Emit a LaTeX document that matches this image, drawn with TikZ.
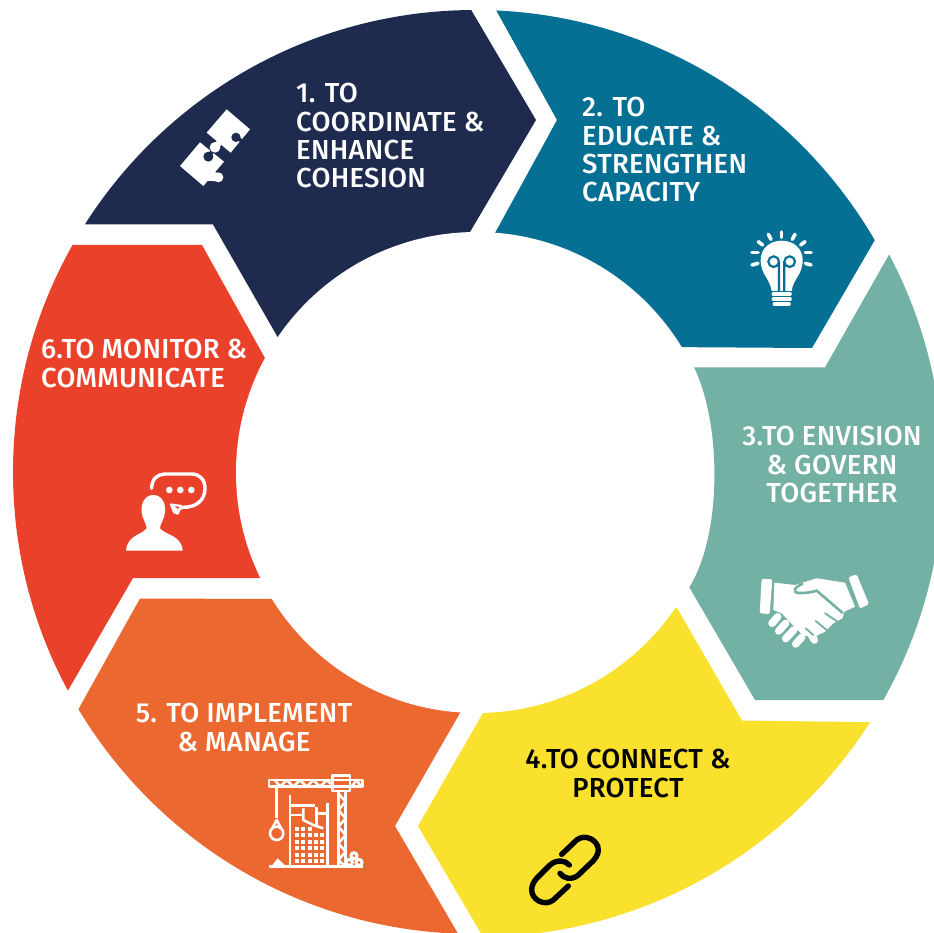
\documentclass[tikz,border=0pt]{standalone}
\usepackage{fontspec}
\newfontfamily\lblfont[LetterSpace=1]{Fira Sans Medium}
\tikzset{
  lbl/.style={font=\lblfont\fontsize{27.5}{28.4}\selectfont,text=white,inner sep=0pt},
  zoomed/.style={x=0.33333pt,y=-0.33333pt},
  ic/.style={draw=white,line cap=round,line join=round},
}
\definecolor{navy}{HTML}{1E2B4F}
\definecolor{petrol}{HTML}{056F94}
\definecolor{sage}{HTML}{73B1A4}
\definecolor{sun}{HTML}{F9E12E}
\definecolor{tangerine}{HTML}{EC6831}
\definecolor{vermil}{HTML}{EA412B}
\begin{document}
\begin{tikzpicture}[x=1pt,y=-1pt]
\useasboundingbox (0,0) rectangle (934,933);
\coordinate (c) at (475,472);
\coordinate (ci) at (476.5,472.5);
\coordinate (cr) at (478,472);
\begin{scope}
\clip (c) circle (462);
\fill[navy] (-50,224.5) -- (213,224.5) -- (300,376) -- (c) -- (450,266) -- (536,120) -- (450,-26) -- (-50,-50) -- cycle;
\fill[petrol] (476,-26) -- (557,120) -- (471.4,276) -- (c) -- (660,347) -- (812,348) -- (1000,25) -- (900,-50) -- cycle;
\fill[tangerine] (c) -- (490.5,660) -- (395,826) -- (497,1000) -- (-50,1000) -- (30,710) -- (78,710) -- (140,598.5) -- (272.3,599) -- cycle;
\fill[vermil] (c) -- (290,403) -- (202,245) -- (-50,245) -- (-50,900) -- (-30,860) -- (133,578) -- (300,578) -- cycle;
\end{scope}
\begin{scope}
\clip (cr) circle (465);
\fill[sun] (c) -- (677,608) -- (742,720.5) -- (1000,724) -- (1000,1000) -- (520,1000) -- (418,826) -- (513.5,660) -- cycle;
\end{scope}
\fill[white] (ci) circle (240.5);
\begin{scope}
\clip (cr) circle (465);
\fill[sage] (694,367.3) -- (825,367.3) -- (940,165) -- (1000,300) -- (1000,720) -- (936,700) -- (755,700) -- (689.3,587.3) .. controls (722,535) and (722,425) .. (694,367.3) -- cycle;
\end{scope}

\node[lbl,anchor=north west,align=left] (t1) at (296,83) {1. TO\\COORDINATE \&\\ENHANCE\\COHESION};
\node[lbl,anchor=north west,align=left] (t2) at (582,97) {2. TO\\EDUCATE \&\\STRENGTHEN\\CAPACITY};
\node[lbl,anchor=north,align=center] (t3) at (832,426) {3.TO ENVISION\\\& GOVERN\\TOGETHER};
\node[lbl,anchor=north,align=center,text=black] (t4) at (628,749) {4.TO CONNECT \&\\PROTECT};
\node[lbl,anchor=north,align=center] (t5) at (244,703) {5. TO IMPLEMENT\\\& MANAGE};
\node[lbl,anchor=north west,align=left] (t6) at (41,339) {6.TO MONITOR \&\\COMMUNICATE};

% puzzle
\begin{scope}[shift={(150,90)},zoomed]
\fill[white] (150,157) -- (222,215) -- (160,288) -- (90,228) -- cycle;
\fill[white] (205,262) circle (15);
\fill[white] (178,240) -- (205,250) -- (205,274) -- (170,272) -- cycle;
\fill[navy] (175,200) circle (15);
\draw[navy,line width=4pt] (175,200) -- (190,180);
\fill[white] (230,58) -- (300,118) -- (242,188) -- (170,128) -- cycle;
\draw[white,line width=6pt] (195,172) -- (208,158);
\fill[white] (195,172) circle (16);
\fill[navy] (258,142) circle (14);
\draw[navy,line width=3.5pt] (258,142) -- (278,155);
\end{scope}

% bulb
\begin{scope}[shift={(730,220)},zoomed]
\foreach \a/\b/\d/\e in {155/36/155/52,115/43/123/58,85/65/98/75,66/98/84/98,66/135/84/130,195/43/187/58,225/65/212/75,243/98/226/98,243/135/226/130}
  \draw[ic,line width=3.6pt] (\a,\b) -- (\d,\e);
\fill[white] (125,213) .. controls (120,175) and (92,165) .. (92,120) .. controls (92,85) and (120,62) .. (155,62) .. controls (190,62) and (218,85) .. (218,120) .. controls (218,165) and (190,175) .. (185,213) -- cycle;
\draw[draw=petrol,line width=2.2pt] (147,213) -- (147,125) (163,213) -- (163,125) (131,125) circle (16) (179,125) circle (16);
\draw[ic,line width=3.6pt] (130,222) -- (180,222);
\draw[ic,line width=3.6pt] (130,237) -- (180,237);
\draw[ic,line width=3.6pt] (133,252) -- (177,252);
\end{scope}

% handshake
\begin{scope}[shift={(745,560)},zoomed]
\fill[white,rounded corners=1.5pt] (50,56) -- (82,58) -- (74,162) -- (44,160) -- cycle;
\fill[white,rounded corners=1.5pt] (310,52) -- (335,43) -- (372,132) -- (345,146) -- cycle;
\fill[white] (88,68) -- (150,75) -- (215,55) -- (300,68) -- (330,140) -- (298,155) -- (292,175) -- (265,190) -- (240,215) -- (205,232) -- (172,225) -- (110,160) -- (85,150) -- cycle;
\draw[draw=sage,line width=2.6pt,line cap=round] (172,72) .. controls (150,80) and (140,95) .. (160,99) .. controls (185,100) and (205,95) .. (215,92) -- (292,158);
\foreach \a/\b/\d/\e in {81/190/98/170,101/213/122/190,122/236/146/210,152/252/170/232,190/208/208/240}
  \draw[ic,line width=7.5pt] (\a,\b) -- (\d,\e);
\foreach \a/\b/\d/\e in {182/205/205/225,212/183/245/210,240/160/278/185}
  \draw[draw=sage,line width=1.8pt,line cap=round] (\a,\b) -- (\d,\e);
\end{scope}

% chain
\begin{scope}[shift={(510,820)},zoomed]
\draw[draw=black,line width=5.4pt,line cap=round,line join=round] (155,103) -- (200,60) .. controls (225,40) and (265,60) .. (265,90) .. controls (265,105) and (255,115) .. (250,122) -- (205,165) .. controls (185,182) and (160,175) .. (150,160);
\draw[draw=black,line width=5.4pt,line cap=round,line join=round] (175,198) -- (130,240) .. controls (105,260) and (65,240) .. (65,210) .. controls (65,195) and (72,185) .. (80,175) -- (120,135) .. controls (140,118) and (165,120) .. (178,135);
\end{scope}

% crane
\begin{scope}[shift={(255,765)},zoomed]
\begin{scope}[ic,line width=2.6pt,line cap=butt]
\draw (42,45) rectangle (322,65);
\draw (232,32) rectangle (285,78);
\draw (60,45) -- (75,65) -- (95,45) -- (115,65) -- (135,45) -- (155,65) -- (175,45) -- (195,65) -- (215,45) -- (232,60);
\draw (290,65) -- (305,45) -- (318,65);
\draw (250,78) -- (250,305) (272,78) -- (272,305);
\draw (250,85) -- (272,110) -- (250,135) -- (272,160) -- (250,185) -- (272,210) -- (250,235) -- (272,260) -- (250,285) -- (272,305);
\draw (65,65) -- (65,160);
\draw (65,205) circle (20);
\draw (52,190) -- (65,165) -- (78,190);
\draw (42,305) -- (325,305);
\draw (105,90) -- (105,305);
\draw (218,305) -- (218,115);
\draw (105,122) -- (180,122) (105,150) -- (145,150);
\draw (185,125) -- (185,180);
\draw (145,130) -- (145,165) -- (175,180) -- (205,190);
\draw (190,145) -- (218,145);
\end{scope}
\fill[white] (50,303) -- (68,280) -- (92,303) -- cycle;
\draw[draw=white,line width=3pt] (297,272) circle (9) (283,292) circle (9) (312,292) circle (9);
\foreach \x in {125,143,165,183,200}
  \foreach \y in {210,232,250,270,288}
    \fill[white] (\x-6,\y-6) rectangle (\x+6,\y+6);
\foreach \x in {125,143,165}
  \fill[white] (\x-6,186) rectangle (\x+6,198);
\end{scope}

% person
\begin{scope}[shift={(110,460)},zoomed]
\fill[white] (130,105) .. controls (155,105) and (168,130) .. (165,155) .. controls (163,180) and (150,190) .. (150,205) .. controls (165,225) and (215,225) .. (218,272) -- (48,272) .. controls (52,225) and (95,225) .. (110,205) .. controls (110,190) and (97,180) .. (95,155) .. controls (92,130) and (105,105) .. (130,105) -- cycle;
\draw[ic,line width=3.4pt] (125,85) .. controls (125,55) and (145,42) .. (165,42) -- (245,42) .. controls (270,42) and (285,60) .. (285,85) .. controls (285,120) and (260,142) .. (220,142) -- (208,145);
\fill[white,rounded corners=1pt] (178,130) -- (218,135) -- (205,165) -- (190,160) -- cycle;
\fill[vermil] (195,138) -- (208,141) -- (204,147) -- cycle;
\fill[white] (178,90) circle (10) (211,90) circle (10) (244,90) circle (10);
\end{scope}
\end{tikzpicture}
\end{document}
